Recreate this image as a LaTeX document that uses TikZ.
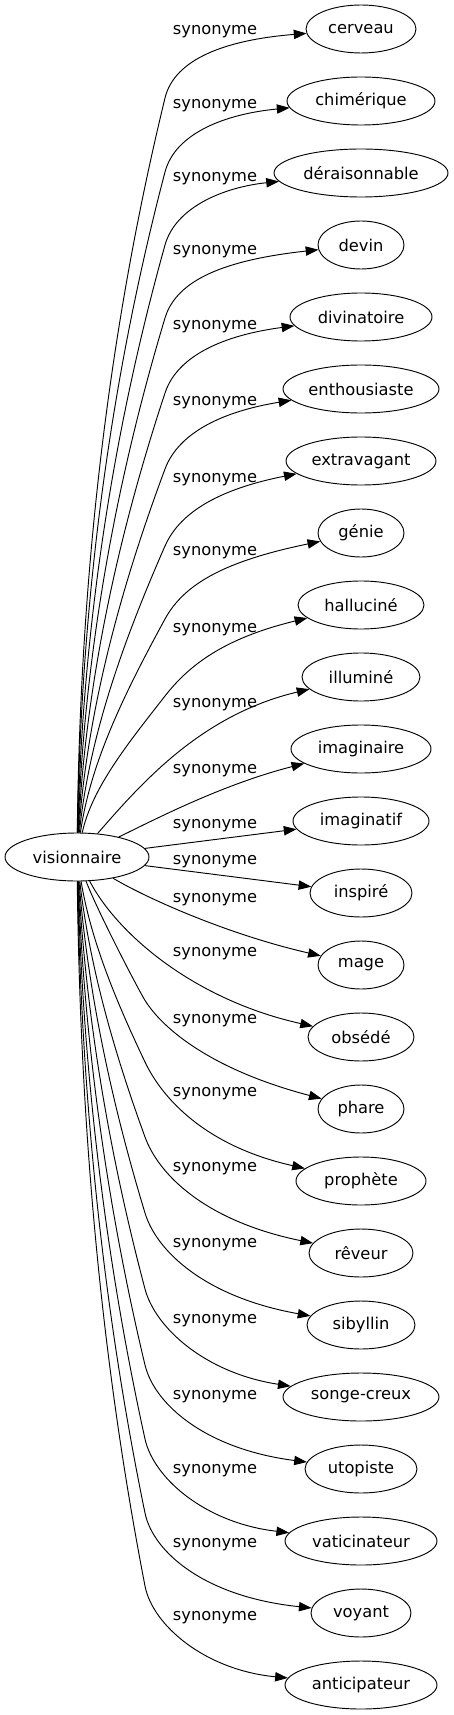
\documentclass[tikz,border=0pt]{standalone}
\usepackage{fontspec}
\setmainfont{DejaVu Sans}
\usetikzlibrary{arrows.meta,shapes.geometric}
\begin{document}
\begin{tikzpicture}[x=0.75pt,y=-0.75pt,
  every node/.style={font=\fontsize{12.2pt}{14pt}\selectfont, text=black},
  tnode/.style={draw, ellipse, inner sep=0pt, minimum height=36pt, line width=0.7pt},
  lab/.style={inner sep=0pt},
  syn/.style={draw, line width=0.7pt, -{Triangle[length=9.5pt,width=7pt]}}]
\useasboundingbox (0,0) rectangle (453,1715);
\node[tnode, minimum width=108pt] (v) at (77,857) {visionnaire};
\foreach \txt/\rx [count=\i from 0] in {cerveau/55, chimérique/74, déraisonnable/87, devin/43, divinatoire/71, enthousiaste/78, extravagant/75, génie/43, halluciné/63, illuminé/59, imaginaire/70, imaginatif/68, inspiré/51, mage/43, obsédé/53, phare/43, prophète/65, rêveur/52, sibyllin/54, songe-creux/78, utopiste/56, vaticinateur/76, voyant/50, anticipateur/76}
  \node[tnode, minimum width={1.5pt*\rx}] (n\i) at (361,{29+72*\i}) {\txt};
\foreach \L [count=\i from 0] in {32,106,179,252,327,403,480,553,630,705,771,826,862,900,954,1021,1094,1169,1245,1321,1397,1471,1545,1618}
  \node[lab] (l\i) at (215,\L) {synonyme};
% upper edges
\foreach \i/\L in {0/32,1/106,2/179,3/252,4/327,5/403,6/480,7/553,8/630}{
  \pgfmathsetmacro\myKy{\L+66}
  \pgfmathsetmacro\myD{833-\myKy}
  \pgfmathsetmacro\myF{min(1,\myD/700)}
  \pgfmathsetmacro\myB{0.35+0.35*\myF}
  \pgfmathsetmacro\myPax{80+15*(1-\myF)}
  \pgfmathsetmacro\myPay{833-\myD/3}
  \pgfmathsetmacro\myVx{85*\myB}
  \pgfmathsetmacro\myVy{\myD/3}
  \pgfmathsetmacro\myPbx{165-\myVx}
  \pgfmathsetmacro\myPby{\myKy+\myVy}
  \pgfmathsetmacro\myVl{10*veclen(\myVx/10,\myVy/10)}
  \pgfmathsetmacro\myCax{165+40*\myVx/\myVl}
  \pgfmathsetmacro\myCay{\myKy-40*\myVy/\myVl}
  \pgfmathsetmacro\myCby{\L+8}
  \draw[syn] (v) .. controls (\myPax,\myPay) and (\myPbx,\myPby) .. (165,\myKy) .. controls (\myCax,\myCay) and (225,\myCby) .. (n\i);
}
% lower edges
\foreach \i/\L in {16/1094,17/1169,18/1245,19/1321,20/1397,21/1471,22/1545,23/1618}{
  \pgfmathsetmacro\myKy{\L-32}
  \pgfmathsetmacro\myD{\myKy-881}
  \pgfmathsetmacro\myF{min(1,\myD/700)}
  \pgfmathsetmacro\myB{0.35+0.35*\myF}
  \pgfmathsetmacro\myPax{80+15*(1-\myF)}
  \pgfmathsetmacro\myPay{881+\myD/3}
  \pgfmathsetmacro\myVx{65*\myB}
  \pgfmathsetmacro\myVy{\myD/3}
  \pgfmathsetmacro\myPbx{145-\myVx}
  \pgfmathsetmacro\myPby{\myKy-\myVy}
  \pgfmathsetmacro\myVl{10*veclen(\myVx/10,\myVy/10)}
  \pgfmathsetmacro\myCax{145+40*\myVx/\myVl}
  \pgfmathsetmacro\myCay{\myKy+40*\myVy/\myVl}
  \pgfmathsetmacro\myCby{\L+52}
  \draw[syn] (v) .. controls (\myPax,\myPay) and (\myPbx,\myPby) .. (145,\myKy) .. controls (\myCax,\myCay) and (205,\myCby) .. (n\i);
}
% near-centre edges
\draw[syn] (v) .. controls (140,785) and (200,715) .. (n9);
\draw[syn] (v) .. controls (150,822) and (220,785) .. (n10);
\draw[syn] (v) -- (n11);
\draw[syn] (v) -- (n12);
\draw[syn] (v) .. controls (150,900) and (230,935) .. (n13);
\draw[syn] (v) .. controls (118,935) and (195,1000) .. (n14);
\draw[syn] (v) .. controls (95,905) and (128,970) .. (143,997) .. controls (158,1024) and (205,1068) .. (n15);
\end{tikzpicture}
\end{document}
